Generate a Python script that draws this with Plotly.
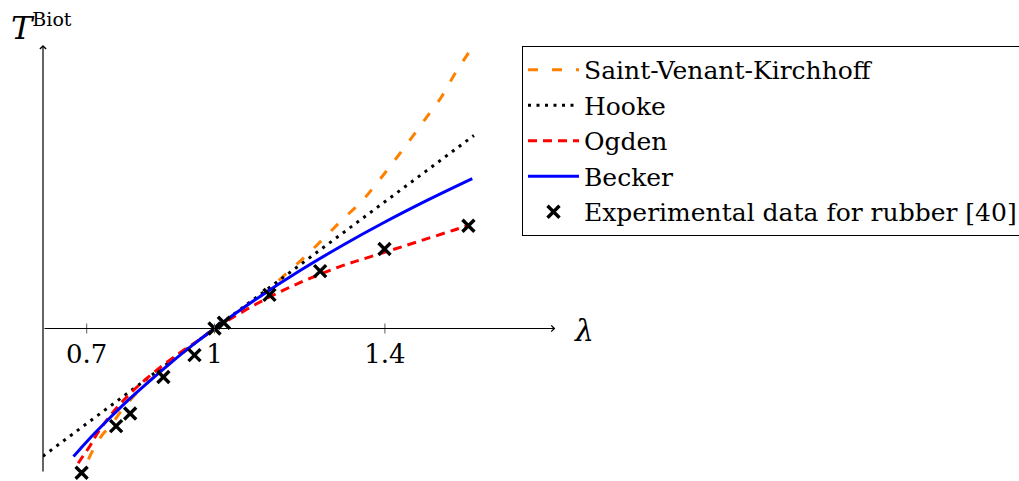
import plotly.graph_objects as go

# ---------------- data ----------------
lam_exp = [0.688, 0.769, 0.802, 0.880, 0.953, 1.000, 1.022, 1.129, 1.248, 1.399, 1.596]
T_exp = [-0.455, -0.308, -0.268, -0.153, -0.084, 0.000, 0.018, 0.106, 0.181, 0.251, 0.324]

lam_svk = [0.704, 0.715, 0.739, 0.755, 0.774, 0.786, 0.830, 0.880, 0.940, 1.000, 1.060, 1.120,
           1.165, 1.208, 1.254, 1.299, 1.346, 1.385, 1.422, 1.459, 1.496, 1.533, 1.565, 1.606]
T_svk = [-0.413, -0.383, -0.331, -0.310, -0.273, -0.252, -0.186, -0.128, -0.062, 0.000, 0.058, 0.115,
         0.169, 0.221, 0.281, 0.342, 0.402, 0.465, 0.529, 0.595, 0.663, 0.731, 0.805, 0.889]

lam_hooke = [0.597, 1.000, 1.609]
T_hooke = [-0.403, 0.000, 0.609]

lam_ogden = [0.680, 0.691, 0.708, 0.723, 0.755, 0.800, 0.850, 0.911, 0.966, 1.000, 1.036, 1.099,
             1.162, 1.224, 1.302, 1.346, 1.412, 1.482, 1.561, 1.595]
T_ogden = [-0.425, -0.403, -0.370, -0.335, -0.275, -0.208, -0.147, -0.084, -0.034, 0.000, 0.029, 0.078,
           0.121, 0.158, 0.199, 0.218, 0.246, 0.276, 0.310, 0.325]

lam_becker = [0.669, 0.700, 0.750, 0.800, 0.850, 0.900, 0.950, 1.000, 1.100, 1.200, 1.300, 1.400, 1.500, 1.605]
T_becker = [-0.404, -0.357, -0.288, -0.223, -0.163, -0.105, -0.051, 0.000, 0.095, 0.182, 0.262, 0.336, 0.405, 0.473]

x_ticks = [0.7, 1.0, 1.4]
x_ticklabels = ["0.7", "1", "1.4"]

names = ["Saint-Venant-Kirchhoff", "Hooke", "Ogden", "Becker", "Experimental data for rubber [40]"]

X_MIN, X_MAX, X_TIP = 0.5974, 1.8110, 1.80
Y_MIN, Y_MAX = -0.4558, 0.8943

FONT = "DejaVu Serif, Liberation Serif, serif"

fig = go.Figure()
fig.add_trace(go.Scatter(x=lam_svk, y=T_svk, mode="lines", name=names[0], line_shape="spline",
                         line=dict(color="rgb(255,128,0)", width=3, dash="10px,14px")))
fig.add_trace(go.Scatter(x=lam_hooke, y=T_hooke, mode="lines", name=names[1],
                         line=dict(color="black", width=3, dash="3px,5.5px")))
fig.add_trace(go.Scatter(x=lam_ogden, y=T_ogden, mode="lines", name=names[2], line_shape="spline",
                         line=dict(color="rgb(255,0,0)", width=3, dash="9px,6px")))
fig.add_trace(go.Scatter(x=lam_becker, y=T_becker, mode="lines", name=names[3], line_shape="spline",
                         line=dict(color="rgb(0,0,255)", width=3)))
fig.add_trace(go.Scatter(x=lam_exp, y=T_exp, mode="markers", name=names[4], cliponaxis=False,
                         marker=dict(symbol="x-thin", size=12, color="black",
                                     line=dict(color="black", width=3.4))))

# small ticks crossing the horizontal axis
for tv in x_ticks:
    fig.add_shape(type="line", xref="x", yref="y", x0=tv, x1=tv, ysizemode="pixel", yanchor=0,
                  y0=-5, y1=5, line=dict(color="rgb(90,90,90)", width=1))

# axis lines with arrow heads
fig.add_annotation(x=X_TIP, y=0, ax=X_MIN, ay=0, xref="x", yref="y", axref="x", ayref="y",
                   text="", showarrow=True, arrowhead=4, arrowsize=1, arrowwidth=1.2, arrowcolor="black")
fig.add_annotation(x=X_MIN, y=Y_MAX, ax=X_MIN, ay=Y_MIN, xref="x", yref="y", axref="x", ayref="y",
                   text="", showarrow=True, arrowhead=4, arrowsize=1, arrowwidth=1.2, arrowcolor="black")

# axis labels
fig.add_annotation(x=1.0464, y=0.334, xref="paper", yref="paper", text="<i>λ</i>", showarrow=False,
                   xanchor="center", yanchor="middle", font=dict(family=FONT, size=30, color="black"))
fig.add_annotation(x=-0.066, y=1.09, xref="paper", yref="paper",
                   text='<i>T</i><sup><span style="font-size:19px">Biot</span></sup>',
                   showarrow=False, xanchor="left", yanchor="top",
                   font=dict(family=FONT, size=32, color="black"))

fig.update_layout(
    width=1019, height=481, autosize=False,
    margin=dict(l=43, r=459, t=45, b=8, autoexpand=False),
    paper_bgcolor="white", plot_bgcolor="white",
    font=dict(family=FONT, color="black"),
    showlegend=True,
    legend=dict(x=0.9265, y=0.9977, xanchor="left", yanchor="top", bgcolor="white",
                bordercolor="black", borderwidth=1, font=dict(family=FONT, size=25, color="black"),
                itemwidth=51, tracegroupgap=0),
    xaxis=dict(range=[X_MIN, X_MAX], showgrid=False, zeroline=False, showline=False,
               anchor="free", position=(473 - 328.5) / 428,
               tickmode="array", tickvals=x_ticks, ticktext=x_ticklabels, ticks="",
               ticklabelstandoff=7,
               tickfont=dict(family=FONT, size=26, color="black")),
    yaxis=dict(range=[Y_MIN, Y_MAX], visible=False),
)

# remove the browser's default 8px body margin so the 1019x481 figure fills the window exactly
fig.write_html("out.html", config={"displayModeBar": False},
               post_script="document.body.style.margin='0';")
